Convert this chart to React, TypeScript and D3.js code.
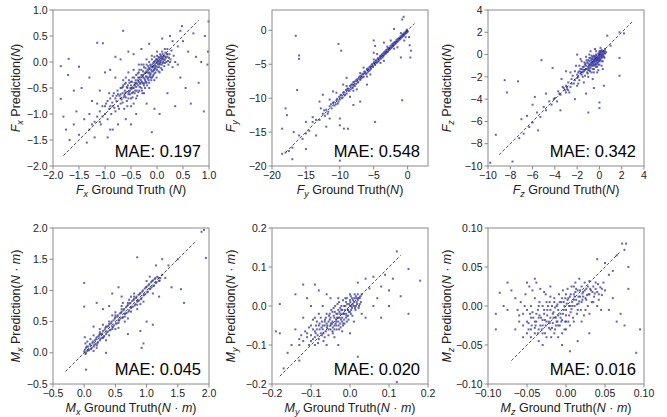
import * as d3 from "d3";

const WIDTH = 667;
const HEIGHT = 417;
const BOX = 156;
const LEFTS = [53, 272, 488];
const TOPS = [10, 228];
const DOT = "#3f3fa2";
const FONT = "'Liberation Sans', Arial, sans-serif";

// ground truth / prediction pairs
const fxPoints: [number, number][] = [
  [-1.2,-1.15],[-1.15,-1.05],[-1.1,-0.95],[-1.08,-1.2],[-1.05,-0.85],[-1.0,-1.0],[-0.98,-0.8],[-0.95,-1.1],[-0.92,-0.9],[-0.9,-0.7],
  [-0.88,-1.0],[-0.85,-0.85],[-0.83,-0.6],[-0.8,-0.95],[-0.78,-0.75],[-0.76,-0.55],[-0.75,-0.85],[-0.72,-0.65],[-0.7,-0.5],[-0.7,-0.8],
  [-0.68,-0.72],[-0.66,-0.6],[-0.65,-0.45],[-0.63,-0.9],[-0.62,-0.55],[-0.6,-0.68],[-0.6,-0.4],[-0.58,-0.75],[-0.57,-0.5],[-0.55,-0.62],
  [-0.54,-0.35],[-0.52,-0.55],[-0.5,-0.7],[-0.5,-0.45],[-0.48,-0.6],[-0.47,-0.3],[-0.46,-0.5],[-0.45,-0.8],[-0.43,-0.4],[-0.42,-0.55],
  [-0.4,-0.25],[-0.4,-0.48],[-0.38,-0.65],[-0.37,-0.35],[-0.36,-0.45],[-0.35,-0.2],[-0.34,-0.55],[-0.33,-0.4],[-0.32,-0.3],[-0.3,-0.5],
  [-0.3,-0.15],[-0.29,-0.38],[-0.28,-0.6],[-0.27,-0.25],[-0.26,-0.42],[-0.25,-0.1],[-0.24,-0.32],[-0.23,-0.5],[-0.22,-0.2],[-0.21,-0.38],
  [-0.2,-0.05],[-0.2,-0.28],[-0.19,-0.45],[-0.18,-0.15],[-0.17,-0.3],[-0.16,-0.22],[-0.15,0.0],[-0.15,-0.4],[-0.14,-0.12],[-0.13,-0.25],
  [-0.12,-0.08],[-0.11,-0.35],[-0.1,-0.18],[-0.1,0.05],[-0.09,-0.1],[-0.08,-0.28],[-0.07,-0.02],[-0.06,-0.15],[-0.05,0.1],[-0.05,-0.22],
  [-0.04,-0.05],[-0.03,-0.12],[-0.02,0.05],[-0.01,-0.3],[0.0,-0.02],[0.0,0.12],[0.01,-0.1],[0.02,0.02],[0.03,-0.18],[0.04,0.08],
  [0.05,-0.05],[0.06,0.15],[0.07,0.0],[0.08,-0.12],[0.09,0.06],[0.1,0.2],[0.11,-0.02],[0.12,0.1],[0.14,-0.08],[0.15,0.04],
  [0.16,0.18],[0.18,0.0],[0.2,0.1],[0.22,-0.05],[0.24,0.15],[0.26,0.05],[0.28,0.22],[0.3,-0.1],[0.32,0.12],[0.35,0.0],
  [-1.85,-0.08],[-1.7,0.06],[-1.71,-0.25],[-1.5,-0.09],[-1.85,-0.71],[-1.8,-1.05],[-1.75,-1.3],[-1.68,-1.5],[-1.6,-1.2],[-1.55,-0.95],
  [-1.5,-1.4],[-1.45,-0.5],[-1.4,-1.1],[-1.35,-1.55],[-1.3,-0.3],[-1.25,-0.75],[-1.2,-1.45],[-1.15,0.37],[-1.04,0.36],[-1.0,-0.2],
  [-0.95,-1.45],[-0.9,-0.15],[-0.85,-1.3],[-0.8,0.1],[-0.75,-1.2],[-0.7,0.05],[-0.65,0.6],[-0.6,-1.1],[-0.55,0.2],[-0.5,-1.2],
  [-0.45,0.15],[-0.4,-1.0],[-0.3,0.25],[-0.2,-0.8],[-0.15,0.35],[-0.1,-1.35],[-0.05,-0.9],[0.05,-1.0],[0.1,0.45],[0.2,-0.6],
  [0.25,0.5],[0.35,-0.85],[0.4,0.3],[0.45,-0.3],[0.48,0.69],[0.5,0.4],[0.55,-0.5],[0.6,0.2],[0.65,-0.8],[0.7,0.55],
  [0.75,0.1],[0.8,-0.4],[0.85,0.0],[0.9,-0.95],[0.92,0.5],[0.99,0.78],[0.97,-0.05],[0.98,0.2],[0.4,-0.05],[0.45,0.6],
  [0.3,0.4],[-1.6,-0.55],[-1.3,-1.3],[-1.1,-0.55],[-0.9,-1.3],[-0.8,-0.3],
];

const fxCore: [number, number][] = [
  [-0.7,-0.62],[-0.68,-0.5],[-0.66,-0.78],[-0.64,-0.68],[-0.62,-0.42],[-0.61,-0.6],[-0.59,-0.58],[-0.57,-0.85],[-0.56,-0.45],[-0.55,-0.7],
  [-0.53,-0.4],[-0.52,-0.62],[-0.51,-0.5],[-0.49,-0.52],[-0.48,-0.38],[-0.47,-0.68],[-0.45,-0.5],[-0.44,-0.3],[-0.43,-0.6],[-0.42,-0.45],
  [-0.41,-0.35],[-0.39,-0.55],[-0.38,-0.42],[-0.37,-0.22],[-0.36,-0.58],[-0.35,-0.38],[-0.34,-0.3],[-0.33,-0.48],[-0.31,-0.35],[-0.3,-0.25],
  [-0.29,-0.55],[-0.28,-0.4],[-0.27,-0.18],[-0.26,-0.3],[-0.25,-0.45],[-0.24,-0.22],[-0.23,-0.35],[-0.22,-0.12],[-0.21,-0.28],[-0.2,-0.4],
  [-0.19,-0.2],[-0.18,-0.32],[-0.17,-0.08],[-0.16,-0.35],[-0.15,-0.2],[-0.14,-0.28],[-0.13,-0.05],[-0.12,-0.22],[-0.11,-0.15],[-0.1,-0.3],
  [-0.09,-0.05],[-0.08,-0.18],[-0.07,-0.25],[-0.06,-0.08],[-0.05,-0.15],[-0.04,0.02],[-0.03,-0.2],[-0.02,-0.08],[-0.01,0.0],[0.0,-0.15],
  [0.01,0.05],[0.02,-0.05],[0.03,0.1],[0.04,-0.1],[0.05,0.02],[0.06,-0.03],[0.07,0.1],[0.08,0.03],[0.09,-0.05],[0.1,0.08],
  [0.11,0.15],[0.12,0.0],[0.13,0.05],[0.14,0.12],[0.15,-0.02],[0.17,0.08],[0.19,0.15],[0.21,0.02],[0.23,0.08],[0.25,0.0],
  [-0.8,-0.7],[-0.82,-0.88],[-0.85,-0.65],[-0.9,-0.85],[-0.95,-0.75],[-1.0,-0.85],[-1.05,-1.05],[-0.75,-0.62],[-0.73,-0.9],[-0.6,-0.3],
  [-0.5,-0.85],[-0.4,-0.7],[-0.3,-0.05],[-0.2,0.05],[-0.1,0.12],[0.0,0.2],[0.05,-0.2],[-0.65,-0.35],[-0.45,-0.15],[-0.25,-0.6],
  [-0.15,-0.5],[-0.55,-0.2],[-0.35,-0.05],[0.15,0.25],[0.2,0.25],[-0.05,-0.35],[0.1,-0.15],[-1.3,-1.0],[-1.25,-1.2],[-1.15,-0.8],
  [-1.1,-1.15],[-0.62,-0.65],[-0.58,-0.48],[-0.54,-0.58],[-0.5,-0.38],[-0.46,-0.58],[-0.44,-0.45],[-0.4,-0.4],[-0.36,-0.3],[-0.32,-0.42],
  [-0.28,-0.28],[-0.24,-0.4],[-0.2,-0.18],[-0.16,-0.12],[-0.12,-0.3],[-0.08,-0.1],[-0.04,-0.12],[0.0,0.05],[0.04,-0.02],[0.08,0.12],
  [0.12,0.05],[-0.7,-0.7],[-0.66,-0.48],[-0.78,-0.65],[-0.86,-0.78],[-0.92,-0.6],[0.16,0.1],[0.2,0.15],[-0.26,-0.05],[-0.34,-0.15],
  [-0.06,0.0],
];

const fyPoints: [number, number][] = [
  [-13,-13.2],[-12.5,-12.3],[-12.2,-12.6],[-12,-11.7],[-11.7,-12],[-11.5,-11.2],[-11.2,-11.5],[-11,-10.7],[-10.8,-11.1],[-10.5,-10.3],
  [-10.3,-10.8],[-10.1,-9.8],[-10,-10.2],[-9.8,-9.5],[-9.6,-9.9],[-9.5,-9.2],[-9.3,-9.6],[-9.1,-8.8],[-9,-9.3],[-8.8,-8.6],
  [-8.7,-8.9],[-8.5,-8.2],[-8.4,-8.7],[-8.2,-8.0],[-8.1,-8.4],[-8,-7.7],[-7.9,-8.1],[-7.7,-7.5],[-7.6,-7.9],[-7.4,-7.2],
  [-7.3,-7.6],[-7.2,-7.0],[-7,-7.3],[-6.9,-6.7],[-6.8,-7.0],[-6.6,-6.4],[-6.5,-6.8],[-6.3,-6.1],[-6.2,-6.4],[-6,-5.8],
  [-5.9,-6.2],[-5.8,-5.6],[-5.6,-5.9],[-5.5,-5.3],[-5.4,-5.6],[-5.2,-5.0],[-5.1,-5.4],[-5,-4.8],[-4.8,-5.1],[-4.7,-4.5],
  [-4.6,-4.8],[-4.4,-4.2],[-4.3,-4.6],[-4.1,-3.9],[-4,-4.2],[-3.9,-3.7],[-3.7,-4.0],[-3.6,-3.4],[-3.5,-3.7],[-3.3,-3.1],
  [-3.2,-3.4],[-3.0,-2.8],[-2.9,-3.1],[-2.7,-2.6],[-2.6,-2.8],[-2.4,-2.2],[-2.3,-2.5],[-2.1,-1.9],[-2.0,-2.2],[-1.8,-1.7],
  [-1.7,-1.9],[-1.5,-1.3],[-1.4,-1.6],[-1.2,-1.1],[-1.1,-1.3],[-0.9,-0.8],[-0.8,-1.0],[-0.6,-0.5],[-0.5,-0.7],[-0.3,-0.2],
  [-0.2,-0.4],[0,-0.1],[-0.1,0.1],
  [-11.5,-10.2],[-10.5,-9.2],[-9.5,-8.0],[-8.5,-9.8],[-7.5,-8.7],[-6.5,-5.5],[-5.5,-6.5],[-4.5,-3.5],[-3.5,-4.5],[-2.5,-1.5],
  [-1.5,-2.5],[-0.5,-1.5],[0.2,-1],[0.3,-2.2],[-12.8,-11.5],[-14,-13.5],[-14.5,-14.8],[-15,-15.2],[-15.5,-16],[-16,-15.5],
  [-17,-17.3],[-17.5,-17.8],[-18,-18],[-18.5,-18.2],
  [-16.5,-0.8],[-16,-3.7],[-16,-4.2],[-16.3,-8.8],[-18,-11.5],[-17.8,-12.5],[-18.5,-14.5],[-17,-19],[-10,-19.2],[-10.2,-2],
  [-9.8,-3],[-5,-1.5],[-4.8,-2.3],[-3,-3.2],[-0.8,-10.3],[-4.8,-13.5],[-8.8,-14.5],[-9.4,-14.5],[-10,-14.0],[0.5,-3],
  [0.4,-4],[-0.6,2.0],[-0.8,1.6],[-12.5,-9.5],[-13,-10.5],[-11,-9],[-14,-12.8],[-15,-13.5],[-13.5,-15.5],[-12,-14.2],
  [-10,-13],[-8,-11],[-7,-10.5],[-6,-8],[-11.5,-13],[-9,-7],[-5,-3.3],[-3.5,-1.8],[-2,0.2],[-1,-4],
  [-16.8,-15],[-15,-17.5],
];

const fyCore: [number, number][] = [
  [-10.9,-10.6],[-10.6,-10.9],[-10.4,-10.1],[-10.2,-10.5],[-9.9,-9.6],[-9.7,-10.0],[-9.4,-9.1],[-9.2,-9.5],[-8.9,-8.6],[-8.6,-8.9],
  [-8.3,-8.0],[-8.15,-8.5],[-7.95,-7.6],[-7.8,-8.2],[-7.55,-7.3],[-7.35,-7.7],[-7.1,-6.8],[-6.95,-7.2],[-6.7,-6.5],[-6.55,-6.9],
  [-6.4,-6.1],[-6.1,-6.4],[-5.95,-5.7],[-5.75,-6.0],[-5.6,-5.4],[-5.45,-5.7],[-5.3,-5.05],[-5.15,-5.3],[-4.95,-4.7],[-4.85,-5.0],
  [-4.65,-4.4],[-4.5,-4.7],[-4.35,-4.1],[-4.2,-4.4],[-4.05,-3.8],[-3.95,-4.1],[-3.75,-3.5],[-3.65,-3.8],[-3.45,-3.2],[-3.35,-3.5],
  [-3.15,-2.9],[-3.05,-3.2],[-2.85,-2.6],[-2.75,-2.9],[-2.55,-2.35],[-2.45,-2.6],[-2.25,-2.0],[-2.15,-2.3],[-1.95,-1.75],[-1.85,-2.0],
  [-1.65,-1.45],[-1.55,-1.7],[-1.35,-1.2],[-1.25,-1.4],[-1.05,-0.9],[-0.95,-1.1],[-0.75,-0.6],[-0.65,-0.8],[-0.45,-0.35],[-0.35,-0.5],
  [-0.15,-0.05],[-0.05,-0.25],[-9,-8.2],[-8,-8.9],[-7,-6.3],[-6,-6.8],[-5,-4.3],[-4,-4.8],[-3,-2.4],[-2,-2.7],
  [-1,-0.4],[-0.3,-1.0],[-12.3,-11.8],[-11.8,-12.3],[-11.3,-10.9],[-13.5,-13.2],
];

const fzPoints: [number, number][] = [
  [-2,-2.1],[-1.9,-1.6],[-1.8,-2.3],[-1.7,-1.3],[-1.6,-1.8],[-1.5,-1.1],[-1.5,-2.0],[-1.4,-1.5],[-1.3,-0.9],[-1.3,-1.9],
  [-1.2,-1.3],[-1.1,-0.7],[-1.1,-1.6],[-1.0,-1.1],[-1.0,-0.5],[-0.9,-1.4],[-0.9,-0.9],[-0.8,-0.3],[-0.8,-1.2],[-0.7,-0.7],
  [-0.7,-1.6],[-0.6,-0.4],[-0.6,-1.0],[-0.5,-0.1],[-0.5,-0.7],[-0.5,-1.3],[-0.4,-0.4],[-0.4,-0.9],[-0.3,0.0],[-0.3,-0.6],
  [-0.3,-1.1],[-0.2,-0.3],[-0.2,-0.8],[-0.1,0.1],[-0.1,-0.5],[0.0,-0.2],[0.0,-0.9],[0.0,0.3],[0.1,-0.4],[0.1,0.1],
  [0.2,-0.1],[0.2,0.4],[0.3,0.0],[0.3,-0.6],[0.4,0.3],[0.4,-0.2],[0.5,0.5],[0.5,0.1],[0.6,0.2],[-1.6,-0.6],
  [-1.2,-0.2],[-0.9,0.0],[-1.8,-1.0],[-2.2,-1.5],[-2.3,-2.6],[-2.5,-2.2],[-2.6,-2.9],[-2.8,-2.5],[-2.9,-3.1],[-3.0,-2.8],
  [-3.1,-3.2],[-3.3,-2.9],[-3.5,-3.6],[-3.7,-3.3],[-4,-3.9],[-4.3,-4.5],[-4.5,-4.2],[-4.8,-5],[-5,-4.7],[-5.3,-5.6],
  [-5.6,-5.2],[-6,-6.1],[-6.3,-6.5],[-6.8,-7.1],[-7.2,-7.5],[-2.4,-1.9],[-2.0,-2.8],[-1.4,-2.5],[-0.6,-2.2],[-0.2,-1.6],
  [0.3,-1.3],[-1.0,-2.0],[-2.7,-3.4],[-3.8,-4.2],[-1.7,-0.4],[-0.4,0.5],[-0.8,0.3],[0.1,0.6],[0.2,-1.0],[-0.1,-1.4],
  [-1.9,-2.6],[-3.4,-2.2],[-2.1,-1.0],[-2.6,-1.6],
  [-8.5,-2.3],[-7.3,-2.4],[-8.3,-3.4],[-5.2,-0.5],[-4.2,-1.2],[-2,0],[1.8,-0.3],[1.8,-1.9],[0,-4.3],[0,-4.8],
  [-1,-5.2],[-9.3,-7.2],[-7.8,-9.6],[-9.8,-9.7],[0.7,1.7],[1.8,2.0],[2.2,1.9],[-5.8,-3.8],[-6.5,-5.5],[-7,-5.8],
  [-4.8,-3.5],[-3.5,-5],[-2.2,-4],[-6,-4.5],[-5.5,-6.8],[-3,-1.5],[-1.2,-3.5],[0.4,-2.8],[-0.5,-3.0],[1.0,0.8],
];

const fzCore: [number, number][] = [
  [-1.2,-1.0],[-1.1,-1.3],[-1.0,-0.8],[-0.95,-1.2],[-0.9,-0.6],[-0.85,-1.0],[-0.8,-0.8],[-0.75,-0.5],[-0.7,-1.0],[-0.65,-0.7],
  [-0.6,-0.2],[-0.55,-0.9],[-0.5,-0.5],[-0.45,-0.2],[-0.45,-1.0],[-0.4,-0.6],[-0.35,-0.3],[-0.35,-0.8],[-0.3,-0.4],[-0.25,-0.1],
  [-0.25,-0.6],[-0.2,-0.5],[-0.15,-0.2],[-0.15,-0.7],[-0.1,-0.3],[-0.05,0.0],[-0.05,-0.6],[0.0,-0.4],[0.05,-0.1],[0.05,0.2],
  [0.1,-0.2],[0.15,0.0],[0.15,0.3],[0.2,-0.3],[0.25,0.1],[0.3,0.3],[0.35,-0.1],[0.4,0.1],[0.45,-0.3],[0.5,0.3],
  [-1.3,-1.4],[-1.4,-1.1],[-1.5,-1.6],[-1.6,-1.3],[-1.7,-1.7],[-1.8,-1.5],[-1.9,-2.0],[-2.0,-1.8],[-1.15,-0.5],[-1.05,-1.7],
  [-0.6,-1.3],[-0.2,-1.1],[0.2,-0.6],[0.0,0.1],[-0.3,0.3],[-0.7,-0.1],[-1.35,-0.7],[-0.85,-1.5],[-0.5,-1.6],[-0.1,-0.9],
  [-2.9,-2.9],[-3.2,-3.0],[-2.8,-3.2],[-3.0,-3.4],[-2.5,-2.6],[-2.2,-2.3],[-3.6,-3.5],[-4.1,-4.0],
  [-0.75,-0.9],[-0.65,-0.35],[-0.55,-0.6],[-0.45,-0.55],[-0.35,-0.15],[-0.25,-0.35],[-0.15,-0.45],[-0.05,-0.3],[0.05,-0.5],[0.1,0.3],
  [0.25,-0.2],[0.35,0.2],[-1.0,-1.4],[-1.25,-0.8],[-1.45,-1.35],[-1.65,-1.55],[-0.9,-0.3],[-0.6,-0.8],[-0.3,-0.9],[0.0,-0.6],
];

const mxPoints: [number, number][] = [
  [0,0.02],[0.02,-0.02],[0.03,0.08],[0.05,0.03],[0.06,0.1],[0.08,0.05],[0.1,0.12],[0.12,0.08],[0.14,0.18],[0.15,0.1],
  [0.17,0.2],[0.18,0.14],[0.2,0.25],[0.22,0.17],[0.24,0.28],[0.25,0.2],[0.27,0.3],[0.28,0.24],[0.3,0.35],[0.32,0.27],
  [0.34,0.4],[0.35,0.3],[0.37,0.42],[0.38,0.34],[0.4,0.46],[0.42,0.37],[0.44,0.5],[0.45,0.42],[0.47,0.52],[0.48,0.44],
  [0.5,0.57],[0.52,0.47],[0.54,0.6],[0.55,0.52],[0.57,0.63],[0.58,0.55],[0.6,0.66],[0.62,0.57],[0.64,0.7],[0.65,0.62],
  [0.67,0.73],[0.68,0.64],[0.7,0.77],[0.72,0.68],[0.74,0.8],[0.75,0.72],[0.77,0.83],[0.78,0.74],[0.8,0.86],[0.82,0.78],
  [0.84,0.9],[0.85,0.82],[0.87,0.93],[0.88,0.84],[0.9,0.96],[0.92,0.88],[0.94,1.0],[0.95,0.92],[0.97,1.03],[0.98,0.94],
  [1.0,1.06],[1.02,0.98],[1.04,1.1],[1.05,1.02],[1.07,1.13],[1.08,1.05],[1.1,1.16],[1.12,1.08],[1.14,1.2],[1.15,1.12],
  [1.17,1.22],[1.2,1.15],[1.22,1.2],[1.25,1.25],[0.05,0.18],[0.1,0.22],[0.15,0.03],[0.3,0.45],[0.4,0.28],[0.5,0.65],
  [0.55,0.4],[0.6,0.75],[0.7,0.55],[0.8,0.95],[0.9,0.78],[1.0,1.15],[1.1,0.95],[0.2,0.08],[0.35,0.2],[0.45,0.6],
  [0.65,0.5],[0.75,0.9],[0.85,0.7],[1.05,1.22],[0.01,0.25],[0.02,0.15],[0.25,0.38],[0.15,0.28],[0.5,0.38],[0.62,0.8],
  [0.72,0.85],[0.95,0.82],
  [0.0,1.12],[0.0,0.74],[0.03,-0.27],[0.2,0.8],[0.3,0.7],[0.25,0.33],[0.85,1.53],[1.55,1.02],[1.6,0.8],[1.95,1.52],
  [1.92,1.97],[1.88,1.94],[0.92,0.08],[1.1,0.45],[1.35,1.4],[1.3,1.2],[1.5,1.5],[0.55,1.05],[0.6,0.9],[0.9,0.35],
  [1.0,0.5],[0.7,0.3],[0.4,0.75],[1.2,0.9],[0.95,0.15],[1.25,1.5],[0.45,0.95],[0.35,0.0],[1.15,1.4],[1.4,1.05],
  [0.15,0.42],
];

const mxCore: [number, number][] = [
  [0.01,0.05],[0.03,0.0],[0.04,0.1],[0.07,0.04],[0.09,0.14],[0.11,0.06],[0.13,0.16],[0.16,0.12],[0.19,0.22],[0.21,0.15],
  [0.23,0.26],[0.26,0.22],[0.29,0.31],[0.31,0.25],[0.33,0.37],[0.36,0.33],[0.39,0.43],[0.41,0.36],[0.43,0.47],[0.46,0.41],
  [0.49,0.55],[0.51,0.47],[0.53,0.58],[0.56,0.52],[0.59,0.64],[0.61,0.56],[0.63,0.68],[0.66,0.63],[0.69,0.75],[0.71,0.66],
  [0.73,0.79],[0.76,0.73],[0.79,0.85],[0.81,0.76],[0.83,0.88],[0.86,0.83],[0.89,0.94],[0.91,0.86],[0.93,0.98],[0.96,0.93],
  [0.99,1.05],[1.01,0.97],[1.03,1.08],[1.06,1.03],[1.09,1.15],[1.11,1.07],[1.13,1.18],[1.16,1.13],[1.19,1.2],[1.21,1.16],
  [0.4,0.5],[0.45,0.38],[0.5,0.6],[0.55,0.48],[0.6,0.7],[0.65,0.58],[0.7,0.8],[0.75,0.66],[0.35,0.42],[0.3,0.24],
  [0.25,0.3],[0.2,0.12],[0.8,0.9],[0.85,0.77],
];

const myPoints: [number, number][] = [
  [-0.1,-0.09],[-0.095,-0.06],[-0.09,-0.1],[-0.088,-0.07],[-0.085,-0.04],[-0.08,-0.085],[-0.078,-0.06],[-0.075,-0.03],[-0.072,-0.075],[-0.07,-0.05],
  [-0.068,-0.09],[-0.065,-0.04],[-0.062,-0.065],[-0.06,-0.02],[-0.058,-0.05],[-0.055,-0.075],[-0.052,-0.035],[-0.05,-0.06],[-0.048,-0.01],[-0.046,-0.045],
  [-0.044,-0.07],[-0.042,-0.025],[-0.04,-0.05],[-0.038,0.0],[-0.036,-0.035],[-0.034,-0.06],[-0.032,-0.02],[-0.03,-0.04],[-0.028,0.01],[-0.026,-0.03],
  [-0.024,-0.055],[-0.022,-0.01],[-0.02,-0.03],[-0.018,0.015],[-0.016,-0.02],[-0.014,-0.045],[-0.012,0.0],[-0.01,-0.02],[-0.008,0.02],[-0.006,-0.01],
  [-0.004,-0.035],[-0.002,0.005],[0,-0.015],[0.002,0.025],[0.004,0.0],[0.006,-0.025],[0.008,0.015],[0.01,0.0],[0.012,0.03],[0.014,-0.01],
  [0.016,0.02],[0.018,0.005],[0.02,0.03],[0.022,-0.005],[0.025,0.02],[0.028,0.01],[0.03,0.03],[-0.11,-0.08],[-0.105,-0.1],[-0.115,-0.065],
  [-0.12,-0.09],[-0.06,-0.1],[-0.04,-0.08],[-0.02,-0.065],[-0.07,0.0],[-0.05,0.02],[-0.03,0.02],[0.0,0.03],[0.01,-0.04],[0.03,-0.02],
  [-0.08,-0.02],[-0.09,-0.03],[-0.1,-0.05],[-0.045,-0.015],[-0.025,-0.005],[-0.015,-0.035],
  [0.18,0.065],[0.15,0.095],[0.12,0.14],[-0.18,-0.07],[-0.19,-0.065],[0.12,-0.195],[-0.12,0.055],[-0.09,0.055],[0.15,-0.02],[0.13,0.025],
  [0.1,0.04],[0.06,0.075],[0.08,0.05],[0.05,0.045],[0.07,0.02],[0.09,0.08],[0.11,0.07],[0.04,-0.03],[0.06,0.0],[0.1,0.0],
  [-0.16,-0.12],[-0.15,-0.1],[-0.14,-0.06],[-0.13,-0.14],[-0.17,-0.16],[-0.12,-0.03],[-0.11,0.02],[-0.14,0.03],[-0.13,-0.1],[-0.1,0.0],
  [-0.08,0.04],[-0.06,0.03],[0.02,0.06],[0.04,0.07],[-0.03,-0.1],[0.0,-0.07],[0.08,-0.03],[-0.18,0.005],[0.02,-0.13],
];

const myCore: [number, number][] = [
  [-0.09,-0.08],[-0.085,-0.06],[-0.08,-0.05],[-0.075,-0.07],[-0.07,-0.06],[-0.065,-0.05],[-0.06,-0.045],[-0.055,-0.04],[-0.05,-0.05],[-0.05,-0.03],
  [-0.045,-0.04],[-0.04,-0.03],[-0.04,-0.06],[-0.035,-0.02],[-0.035,-0.05],[-0.03,-0.03],[-0.03,-0.01],[-0.025,-0.045],[-0.025,-0.02],[-0.02,-0.01],
  [-0.02,-0.04],[-0.015,-0.02],[-0.015,0.0],[-0.01,-0.03],[-0.01,0.01],[-0.005,-0.01],[-0.005,-0.025],[0.0,0.0],[0.0,0.015],[0.005,-0.005],
  [0.005,0.02],[0.01,0.01],[0.015,0.0],[0.015,0.025],[0.02,0.015],[0.025,0.005],[-0.065,-0.08],[-0.055,-0.06],[-0.045,-0.065],[-0.035,-0.04],
  [-0.028,-0.06],[-0.018,-0.05],[-0.008,-0.04],[0.002,-0.02],[-0.072,-0.04],[-0.062,-0.03],[-0.052,-0.02],[-0.042,-0.005],[-0.032,0.005],[-0.022,0.0],
  [-0.012,0.02],[-0.11,-0.07],[-0.105,-0.055],[-0.1,-0.075],[-0.095,-0.085],[-0.09,-0.065],[-0.087,-0.05],[-0.083,-0.075],[-0.078,-0.045],[-0.073,-0.055],
  [-0.068,-0.07],[-0.064,-0.035],[-0.059,-0.055],[-0.054,-0.025],[-0.049,-0.045],[-0.044,-0.055],[-0.039,-0.015],[-0.037,-0.045],[-0.033,-0.03],[-0.029,-0.05],
  [-0.027,-0.015],[-0.023,-0.035],[-0.019,-0.02],[-0.017,-0.045],[-0.013,-0.01],[-0.009,-0.025],[-0.007,0.005],[-0.003,-0.015],[0.001,0.01],[0.003,-0.01],
  [0.007,0.005],[0.011,0.02],[0.013,-0.005],[0.017,0.01],[0.021,0.02],[0.023,0.0],[0.027,0.025],[-0.125,-0.075],[-0.13,-0.085],[-0.095,-0.035],
  [-0.082,-0.095],
];

const mzPoints: [number, number][] = [
  [-0.05,-0.02],[-0.048,-0.03],[-0.046,-0.01],[-0.045,0.0],[-0.044,-0.025],[-0.042,-0.015],[-0.04,0.01],[-0.04,-0.035],[-0.038,-0.02],[-0.036,-0.005],
  [-0.035,-0.03],[-0.034,0.005],[-0.032,-0.015],[-0.03,-0.025],[-0.03,0.0],[-0.028,-0.01],[-0.027,-0.035],[-0.026,0.015],[-0.025,-0.02],[-0.024,-0.005],
  [-0.022,-0.028],[-0.021,0.005],[-0.02,-0.015],[-0.019,-0.04],[-0.018,0.0],[-0.017,-0.022],[-0.016,-0.008],[-0.015,0.01],[-0.014,-0.03],[-0.013,-0.015],
  [-0.012,0.0],[-0.011,-0.02],[-0.01,-0.005],[-0.009,0.015],[-0.008,-0.025],[-0.007,-0.01],[-0.006,0.005],[-0.005,-0.018],[-0.004,0.02],[-0.003,-0.005],
  [-0.002,-0.03],[-0.001,0.01],[0,-0.012],[0.001,0.003],[0.002,0.022],[0.003,-0.02],[0.004,0.0],[0.005,0.012],[0.006,-0.008],[0.007,0.025],
  [0.008,0.005],[0.009,-0.015],[0.01,0.015],[0.011,0.0],[0.012,0.03],[0.013,0.008],[0.014,-0.01],[0.015,0.02],[0.016,0.003],[0.017,0.035],
  [0.018,0.012],[0.019,-0.005],[0.02,0.025],[0.021,0.008],[0.022,0.018],[0.023,-0.012],[0.024,0.03],[0.025,0.01],[0.026,0.022],[0.028,0.0],
  [0.029,0.015],[0.03,0.032],[0.032,0.02],[0.033,0.005],[0.035,0.025],[0.036,0.012],[0.038,0.03],[0.04,0.018],[0.042,0.008],[0.044,0.024],
  [0.046,0.014],[0.048,0.03],[0.05,0.02],[-0.055,-0.01],[-0.058,0.005],[-0.06,-0.02],[-0.062,-0.005],[-0.065,0.01],[-0.052,0.015],[-0.047,0.025],
  [-0.043,0.02],[-0.038,0.03],[-0.033,0.022],[-0.028,0.018],[-0.02,0.012],[-0.015,-0.035],[-0.01,-0.04],[-0.005,-0.035],[0.0,-0.03],[0.005,-0.025],
  [0.01,-0.02],[0.02,-0.02],[0.03,-0.01],[0.04,0.0],[0.045,-0.005],[-0.045,-0.04],[-0.05,-0.035],[-0.035,-0.045],[-0.025,-0.04],
  [0.072,0.08],[0.077,0.08],[0.075,0.072],[0.065,0.065],[0.08,0.05],[0.09,-0.06],[0.095,-0.03],[-0.09,-0.01],[-0.09,-0.03],[-0.085,0.017],
  [0.005,-0.058],[-0.08,0.0],[-0.075,-0.005],[-0.07,0.02],[-0.065,-0.03],[0.06,0.045],[0.055,0.04],[0.06,0.01],[0.065,-0.02],[0.07,-0.01],
  [0.075,-0.025],[0.08,0.022],[0.055,-0.005],[-0.05,0.03],[-0.04,0.035],[-0.055,-0.04],[-0.03,-0.05],[-0.005,-0.05],[0.015,-0.045],[0.03,-0.035],
  [0.04,0.06],[0.05,0.055],[-0.02,0.025],[-0.075,0.03],
];

const mzCore: [number, number][] = [
  [-0.04,-0.02],[-0.038,-0.01],[-0.035,-0.015],[-0.033,-0.025],[-0.03,-0.018],[-0.028,-0.005],[-0.026,-0.025],[-0.024,-0.012],[-0.022,-0.02],[-0.02,-0.005],
  [-0.018,-0.028],[-0.016,-0.015],[-0.014,-0.002],[-0.012,-0.02],[-0.01,-0.012],[-0.008,0.005],[-0.006,-0.02],[-0.004,-0.01],[-0.002,0.0],[0.0,-0.005],
  [0.002,0.008],[0.004,-0.012],[0.006,0.015],[0.008,0.0],[0.01,0.008],[0.012,0.018],[0.014,0.002],[0.016,0.012],[0.018,0.02],[0.02,0.005],
  [0.022,0.012],[0.024,0.02],[0.026,0.008],[0.028,0.025],[0.03,0.015],[0.034,0.018],[0.038,0.022],[0.042,0.015],[0.046,0.022],[-0.045,-0.03],
  [-0.04,-0.028],[-0.036,-0.035],[-0.03,-0.035],[-0.02,-0.03],[-0.01,-0.025],[0.0,-0.02],[0.005,0.0],[-0.015,0.005],[-0.025,0.005],[-0.035,0.0],
  [-0.045,-0.015],[-0.05,-0.005],[0.015,-0.005],[0.025,-0.005],[0.035,0.005],[0.01,0.025],[0.0,0.015],[-0.005,0.01],
  [-0.048,-0.022],[-0.043,-0.008],[-0.039,-0.025],[-0.034,-0.012],[-0.031,-0.03],[-0.027,-0.018],[-0.023,0.0],[-0.021,-0.022],[-0.017,-0.01],[-0.013,-0.025],
  [-0.011,0.002],[-0.007,-0.015],[-0.003,0.005],[-0.001,-0.02],[0.003,0.01],[0.007,-0.004],[0.011,0.012],[0.013,0.022],[0.017,0.006],[0.021,0.016],
  [0.027,0.014],[0.031,0.022],[0.037,0.016],[0.041,0.028],[-0.055,-0.025],[-0.06,-0.012],[-0.053,0.0],
];

const symbols = ["F", "F", "F", "M", "M", "M"];
const subscripts = ["x", "y", "z", "x", "y", "z"];
const maeValues = ["0.197", "0.548", "0.342", "0.045", "0.020", "0.016"];
const domains: [number, number][] = [[-2, 1], [-20, 3], [-10, 4], [-0.5, 2], [-0.2, 0.2], [-0.1, 0.1]];
const tickSteps = [0.5, 5, 2, 0.5, 0.1, 0.05];
const tickFormats = [".1f", "d", "d", ".1f", ".1f", ".2f"];
const diagonals: [number, number][] = [[-1.8, 0.8], [-18, 1], [-9, 3], [-0.3, 1.8], [-0.18, 0.13], [-0.07, 0.07]];
const allPoints = [
  fxPoints.concat(fxCore),
  fyPoints.concat(fyCore),
  fzPoints.concat(fzCore),
  mxPoints.concat(mxCore),
  myPoints.concat(myCore),
  mzPoints.concat(mzCore),
];

function Unit({ moment }: { moment: boolean }) {
  if (!moment) {
    return (
      <>
        (<tspan fontStyle="italic">N</tspan>)
      </>
    );
  }
  return (
    <>
      (<tspan fontStyle="italic">N</tspan> · <tspan fontStyle="italic">m</tspan>)
    </>
  );
}

function Panel({ i }: { i: number }) {
  const left = LEFTS[i % 3];
  const top = TOPS[Math.floor(i / 3)];
  const moment = i >= 3;
  const dom = domains[i];
  const x = d3.scaleLinear().domain(dom).range([0, BOX]);
  const y = d3.scaleLinear().domain(dom).range([BOX, 0]);
  const fmt = d3.format(tickFormats[i]);
  const step = tickSteps[i];
  const ticks = d3.range(dom[0], dom[1] + step / 2, step).filter((t) => t <= dom[1] + 1e-9);
  const labelOffset = i % 3 === 0 ? 33 : 37;
  const tickColor = "#8a8a8a";
  const label = (t: number) => fmt(Math.abs(t) < 1e-9 ? 0 : t);

  return (
    <g transform={`translate(${left},${top})`} fontFamily={FONT}>
      <rect width={BOX} height={BOX} fill="white" />
      {allPoints[i].map((p, k) => (
        <rect key={k} x={x(p[0]) - 1} y={y(p[1]) - 1} width={2} height={2} fill={DOT} opacity={0.8} />
      ))}
      <line
        x1={x(diagonals[i][0])}
        y1={y(diagonals[i][0])}
        x2={x(diagonals[i][1])}
        y2={y(diagonals[i][1])}
        stroke="#222"
        strokeWidth={0.8}
        strokeDasharray="3,2"
      />
      <rect width={BOX} height={BOX} fill="none" stroke={tickColor} strokeWidth={1} />
      {ticks.map((t, k) => (
        <g key={k} transform={`translate(${x(t)},${BOX})`}>
          <line y2={3.5} stroke={tickColor} />
          <text y={13} textAnchor="middle" fontSize={10.5} fill="#222">
            {label(t)}
          </text>
        </g>
      ))}
      {ticks.map((t, k) => (
        <g key={k} transform={`translate(0,${y(t)})`}>
          <line x2={-3.5} stroke={tickColor} />
          <text x={-5.5} dy="0.35em" textAnchor="end" fontSize={10.5} fill="#222">
            {label(t)}
          </text>
        </g>
      ))}
      <text x={BOX - 8} y={BOX - 9} textAnchor="end" fontSize={16.5} fill="#000">
        MAE: {maeValues[i]}
      </text>
      <text x={BOX / 2} y={BOX + 28} textAnchor="middle" fontSize={12.5} fill="#222">
        <tspan fontStyle="italic">{symbols[i]}</tspan>
        <tspan fontStyle="italic" fontSize={9} dy={3}>{subscripts[i]}</tspan>
        <tspan dy={-3}>{i === 0 ? " Ground Truth " : " Ground Truth"}</tspan>
        <Unit moment={moment} />
      </text>
      <text
        transform={`translate(${-labelOffset},${BOX / 2}) rotate(-90)`}
        textAnchor="middle"
        fontSize={12.5}
        fill="#222"
      >
        <tspan fontStyle="italic">{symbols[i]}</tspan>
        <tspan fontStyle="italic" fontSize={9} dy={3}>{subscripts[i]}</tspan>
        <tspan dy={-3}> Prediction</tspan>
        <Unit moment={moment} />
      </text>
    </g>
  );
}

export default function App() {
  return (
    <svg width={WIDTH} height={HEIGHT} style={{ display: "block", position: "absolute", left: 0, top: 0 }}>
      <rect width={WIDTH} height={HEIGHT} fill="white" />
      {[0, 1, 2, 3, 4, 5].map((i) => (
        <Panel key={i} i={i} />
      ))}
    </svg>
  );
}
